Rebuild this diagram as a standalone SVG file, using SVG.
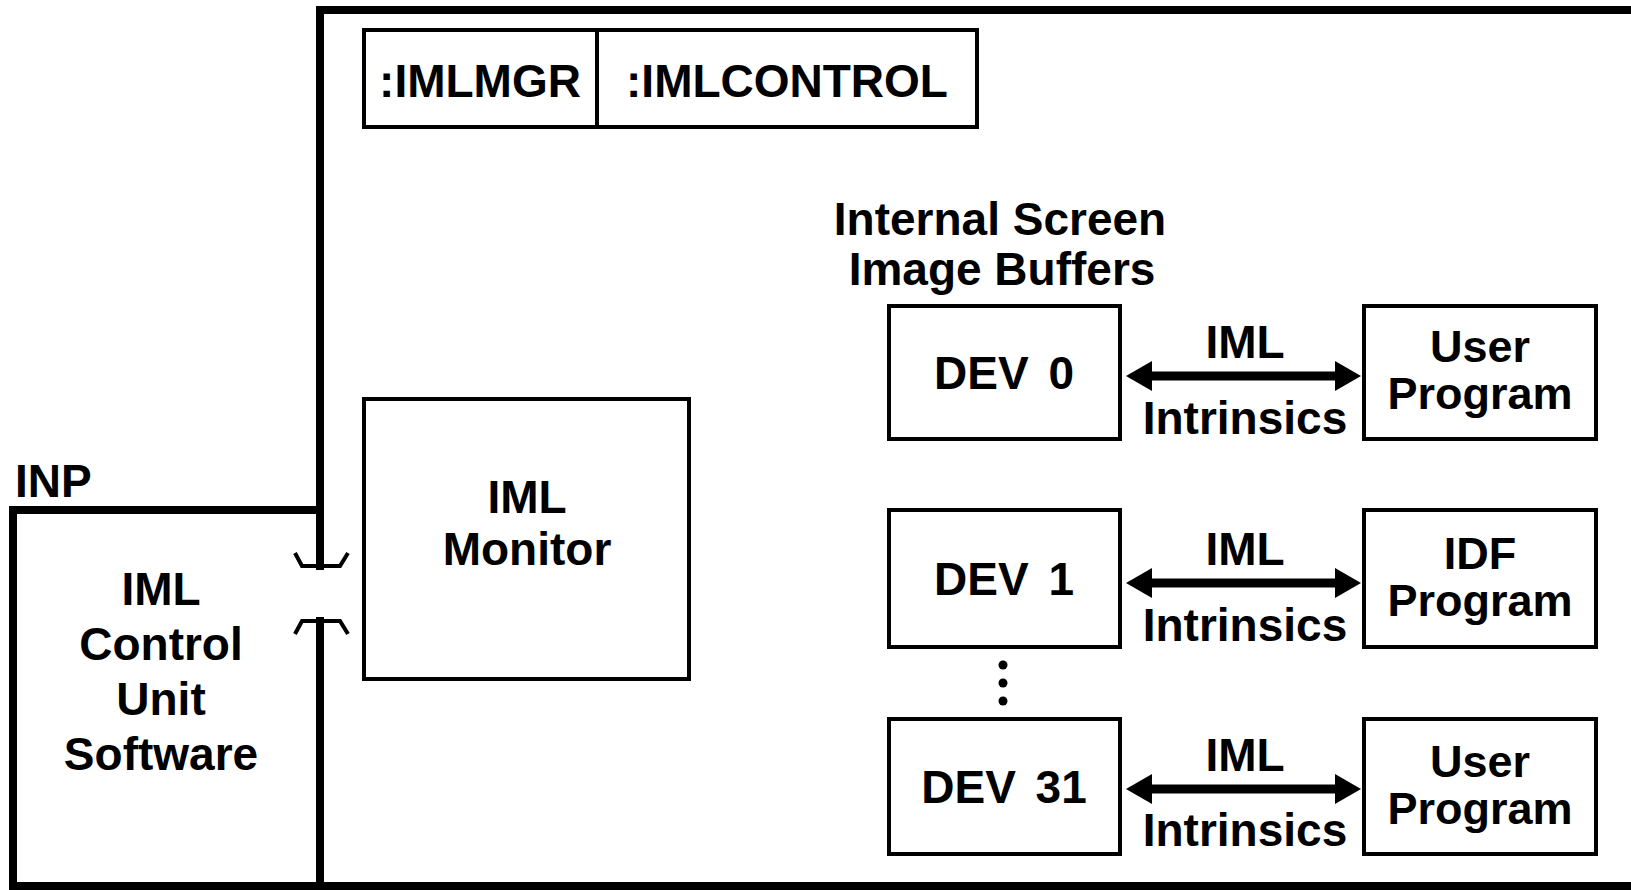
<svg xmlns="http://www.w3.org/2000/svg" width="1631" height="890" viewBox="0 0 1631 890">
  <style>
    .bg { fill: #ffffff; }
    .box { fill: none; stroke: #000; stroke-width: 4; }
    .frame { fill: none; stroke: #000; stroke-width: 8; stroke-linecap: square; }
    .plug { fill: none; stroke: #000; stroke-width: 4; stroke-linejoin: miter; }
    .t { font-family: "Liberation Sans", Arial, sans-serif; font-weight: bold; font-size: 46px; fill: #000; }
    .s { font-size: 45px; }
    .c { text-anchor: middle; }
    .dev { word-spacing: 7px; }
    .shaft { stroke: #000; stroke-width: 9; marker-start: url(#head); marker-end: url(#head); }
  </style>
  <defs>
    <marker id="head" viewBox="0 0 26 30" refX="1" refY="15" markerWidth="26" markerHeight="30" markerUnits="userSpaceOnUse" orient="auto-start-reverse">
      <path d="M0,0 L26,15 L0,30 z" fill="#000"/>
    </marker>
  </defs>

  <rect class="bg" x="0" y="0" width="1631" height="890"/>

  <!-- Host frame and INP unit outline -->
  <g id="frame">
    <path class="frame" d="M320,566 V10 H1640"/>
    <path class="frame" d="M320,621 V886"/>
    <path class="frame" d="M320,510 H13 V886 H1640"/>
  </g>

  <!-- INP control unit -->
  <g id="inp">
    <text class="t" x="15" y="497">INP</text>
    <text class="t c" x="161" y="605">IML</text>
    <text class="t c" x="161" y="660">Control</text>
    <text class="t c" x="161" y="715">Unit</text>
    <text class="t c" x="161" y="770">Software</text>
  </g>

  <!-- Plug-and-socket link between the unit and the host -->
  <g id="link">
    <path class="plug" d="M295,553 L302,566 H340 L348,553"/>
    <path class="plug" d="M295,634 L302,621 H340 L348,634"/>
  </g>

  <!-- Account names -->
  <g id="accounts">
    <rect class="box" x="364" y="30" width="613" height="97"/>
    <line class="box" x1="597" y1="30" x2="597" y2="127"/>
    <text class="t c" x="480" y="97">:IMLMGR</text>
    <text class="t c" x="787" y="97">:IMLCONTROL</text>
  </g>

  <g id="monitor">
    <rect class="box" x="364" y="399" width="325" height="280"/>
    <text class="t c" x="527" y="513">IML</text>
    <text class="t c" x="527" y="565">Monitor</text>
  </g>

  <g id="buffers-title">
    <text class="t c" x="1000" y="235">Internal Screen</text>
    <text class="t c" x="1002" y="285">Image Buffers</text>
  </g>

  <g id="dev0">
    <rect class="box" x="889" y="306" width="231" height="133"/>
    <text class="t c dev" x="1004" y="389">DEV 0</text>
  </g>
  <g id="dev1">
    <rect class="box" x="889" y="510" width="231" height="137"/>
    <text class="t c dev" x="1004" y="595">DEV 1</text>
  </g>
  <g id="dev31">
    <rect class="box" x="889" y="719" width="231" height="135"/>
    <text class="t c dev" x="1004" y="803">DEV 31</text>
  </g>

  <g id="dots">
    <circle cx="1003" cy="665" r="4.5" fill="#000"/>
    <circle cx="1003" cy="683" r="4.5" fill="#000"/>
    <circle cx="1003" cy="701" r="4.5" fill="#000"/>
  </g>

  <g id="user-program-0">
    <rect class="box" x="1364" y="306" width="232" height="133"/>
    <text class="t s c" x="1480" y="362">User</text>
    <text class="t s c" x="1480" y="409">Program</text>
  </g>
  <g id="idf-program">
    <rect class="box" x="1364" y="510" width="232" height="137"/>
    <text class="t s c" x="1480" y="569">IDF</text>
    <text class="t s c" x="1480" y="616">Program</text>
  </g>
  <g id="user-program-31">
    <rect class="box" x="1364" y="719" width="232" height="135"/>
    <text class="t s c" x="1480" y="777">User</text>
    <text class="t s c" x="1480" y="824">Program</text>
  </g>

  <!-- IML Intrinsics connectors -->
  <g id="connectors">
    <line class="shaft" x1="1151" y1="376" x2="1336" y2="376"/>
    <line class="shaft" x1="1151" y1="583" x2="1336" y2="583"/>
    <line class="shaft" x1="1151" y1="789" x2="1336" y2="789"/>
    <text class="t c" x="1245" y="358">IML</text>
    <text class="t c" x="1245" y="434">Intrinsics</text>
    <text class="t c" x="1245" y="565">IML</text>
    <text class="t c" x="1245" y="641">Intrinsics</text>
    <text class="t c" x="1245" y="771">IML</text>
    <text class="t c" x="1245" y="846">Intrinsics</text>
  </g>
</svg>
